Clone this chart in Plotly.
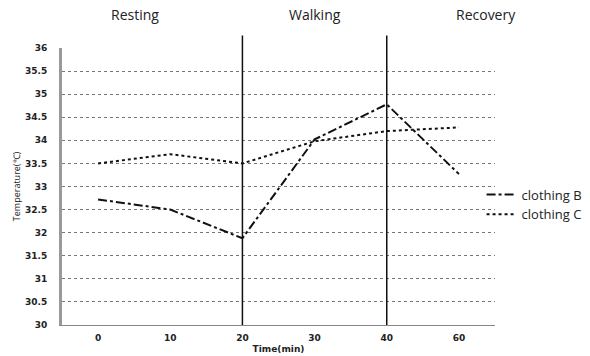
import plotly.graph_objects as go

time_labels = ["0", "10", "20", "30", "40", "60"]
clothing_b = [32.72, 32.5, 31.88, 34.02, 34.78, 33.27]
clothing_c = [33.5, 33.7, 33.5, 33.98, 34.2, 34.28]
phase_labels = ["Resting", "Walking", "Recovery"]
phase_x = [0.168, 0.585, 0.98]
phase_bounds = ["20", "40"]
y_ticks = [30, 30.5, 31, 31.5, 32, 32.5, 33, 33.5, 34, 34.5, 35, 35.5, 36]

fig = go.Figure()
fig.add_trace(go.Scatter(x=time_labels, y=clothing_b, mode="lines", name="clothing B",
                         line=dict(color="#111111", width=2, dash="dashdot")))
fig.add_trace(go.Scatter(x=time_labels, y=clothing_c, mode="lines", name="clothing C",
                         line=dict(color="#111111", width=2, dash="dot")))

for b in phase_bounds:
    idx = time_labels.index(b)
    fig.add_shape(type="line", xref="x", yref="paper", x0=idx, x1=idx, y0=0, y1=1.045,
                  line=dict(color="#111111", width=1.5))

for lab, px in zip(phase_labels, phase_x):
    fig.add_annotation(text=lab, xref="paper", yref="paper", x=px, y=1.12,
                       showarrow=False, xanchor="center", yanchor="middle",
                       font=dict(family="Open Sans", size=14, color="#222222"))

fig.update_layout(
    width=590, height=356,
    margin=dict(l=62, r=95, t=48, b=31, autoexpand=False),
    paper_bgcolor="white", plot_bgcolor="white",
    showlegend=True,
    legend=dict(x=0.969, y=0.435, xanchor="left", yanchor="middle",
                font=dict(family="Open Sans", size=13, color="#222222"),
                bgcolor="rgba(0,0,0,0)", tracegroupgap=0, itemwidth=30),
    font=dict(family="DejaVu Sans", color="#222222"),
)
fig.update_xaxes(type="category", categoryorder="array", categoryarray=time_labels,
                 range=[-0.5, 5.5], showgrid=False, showline=True, linecolor="#888888",
                 linewidth=1, ticks="", ticklabelstandoff=4,
                 tickfont=dict(family="DejaVu Sans", size=9, weight="bold"),
                 title=dict(text="<b>Time(min)</b>", font=dict(family="DejaVu Sans", size=9), standoff=3))
fig.update_yaxes(range=[30, 36], tickvals=y_ticks, ticktext=[f"{v:g}" for v in y_ticks],
                 showgrid=True, gridcolor="#777777", griddash="dot", gridwidth=1,
                 showline=True, linecolor="#999999", linewidth=3, ticks="", ticklabelstandoff=10,
                 tickfont=dict(family="DejaVu Sans", size=9, weight="bold"),
                 title=dict(text="Temperature(℃)", font=dict(family="Open Sans", size=9), standoff=3),
                 zeroline=False)

fig.write_html("out.html")
